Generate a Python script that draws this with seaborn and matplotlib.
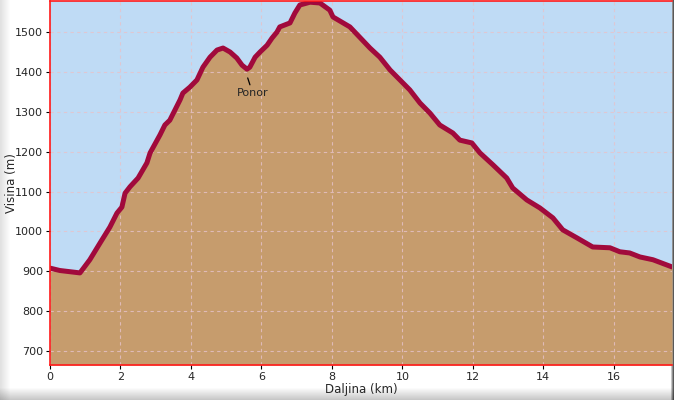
import numpy as np
import pandas as pd
import matplotlib
matplotlib.use("Agg")
import matplotlib.pyplot as plt
import seaborn as sns

distance_km = [0.00, 0.28, 0.85, 1.13, 1.42, 1.70, 1.90, 2.04, 2.13, 2.27, 2.50, 2.75,
               2.84, 3.12, 3.26, 3.40, 3.69, 3.77, 3.97, 4.17, 4.34, 4.54, 4.74, 4.91,
               5.11, 5.30, 5.45, 5.59, 5.67, 5.82, 5.96, 6.16, 6.30, 6.44, 6.52, 6.81,
               6.95, 7.09, 7.38, 7.66, 7.94, 8.03, 8.51, 8.79, 9.08, 9.36, 9.65, 9.93,
               10.21, 10.50, 10.78, 11.06, 11.43, 11.63, 11.97, 12.20, 12.57, 12.96,
               13.13, 13.53, 13.90, 14.27, 14.55, 14.95, 15.40, 15.89, 16.17, 16.45,
               16.74, 17.11, 17.50, 17.65]
elevation_m = [908, 902, 896, 929, 971, 1011, 1046, 1061, 1096, 1112, 1134, 1172,
               1197, 1242, 1267, 1279, 1330, 1347, 1362, 1380, 1412, 1437, 1455, 1460,
               1450, 1435, 1417, 1407, 1412, 1437, 1450, 1467, 1485, 1500, 1513, 1523,
               1548, 1568, 1575, 1573, 1555, 1538, 1513, 1487, 1460, 1437, 1405, 1380,
               1355, 1322, 1297, 1267, 1247, 1229, 1222, 1197, 1167, 1134,
               1109, 1079, 1059, 1034, 1004, 984, 961, 959, 949, 946,
               936, 929, 916, 911]
x_ticks = [0, 2, 4, 6, 8, 10, 12, 14, 16]
y_ticks = [700, 800, 900, 1000, 1100, 1200, 1300, 1400, 1500]
annot_label = "Ponor"
annot_point = (5.59, 1407)
annot_text_pos = (5.75, 1347)

df = pd.DataFrame({"Daljina (km)": distance_km, "Visina (m)": elevation_m})

sns.set_style("white")
plt.rcParams['font.family'] = ['DejaVu Sans']

W, H = 674, 400
fig = plt.figure(figsize=(W / 100, H / 100), dpi=100)

# shadow frame background
bg = np.ones((H, W))
xs = np.arange(W)
ys = np.arange(H)
left = np.clip(xs / 10.0, 0, 1)
bg *= (0.88 + 0.12 * left)[None, :]
bottom = np.clip((H - 1 - ys) / 12.0, 0, 1)
bg *= (0.78 + 0.22 * bottom)[:, None]
right = np.clip((W - 1 - xs) / 3.0, 0, 1)
bg *= (0.35 + 0.65 * right)[None, :]
bgax = fig.add_axes([0, 0, 1, 1])
bgax.imshow(bg, cmap="gray", vmin=0, vmax=1, aspect="auto", interpolation="bilinear")
bgax.axis("off")

ax = fig.add_axes([50 / W, 35 / H, 622 / W, 364 / H])
ax.set_facecolor("#BFDBF5")
ymin, ymax = 665, 1578
ax.fill_between(df["Daljina (km)"], df["Visina (m)"], ymin, color="#C69C6D", zorder=1, lw=0)
sns.lineplot(data=df, x="Daljina (km)", y="Visina (m)", ax=ax, color="#A10A3C",
             lw=3.6, zorder=3, solid_joinstyle="round", solid_capstyle="round")

ax.set_xlim(0, 17.65)
ax.set_ylim(ymin, ymax)
ax.set_xticks(x_ticks)
ax.set_yticks(y_ticks)
ax.set_axisbelow(False)
ax.grid(True, color="#E6C2CA", linestyle=(0, (3, 3)), lw=0.8, alpha=0.8, zorder=2)

for s in ["left", "top", "bottom"]:
    ax.spines[s].set_color("#FF1A1A")
    ax.spines[s].set_linewidth(1.2)
    ax.spines[s].set_zorder(5)
ax.spines["right"].set_visible(False)
ax.tick_params(axis="both", direction="out", length=3, width=0.8, color="black",
               labelsize=8, pad=2, left=True, bottom=True)
ax.set_xlabel("Daljina (km)", fontsize=8.5, labelpad=1)
ax.set_ylabel("Visina (m)", fontsize=8.5)
ax.yaxis.set_label_coords(-0.052, 0.5)

ax.annotate(annot_label, xy=(annot_point[0] + 0.02, annot_point[1] - 22),
            xytext=annot_text_pos,
            fontsize=8, ha="center", va="center", zorder=4,
            arrowprops=dict(arrowstyle="-", color="black", lw=0.9, shrinkA=6, shrinkB=0))

fig.savefig("out.png", dpi=100)
